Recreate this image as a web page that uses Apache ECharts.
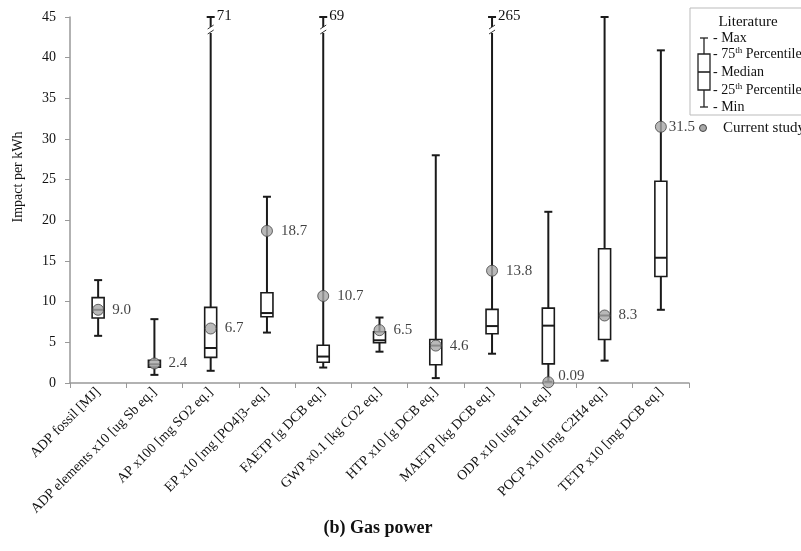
<!DOCTYPE html>
<html>
<head>
<meta charset="utf-8">
<script src="https://cdn.jsdelivr.net/npm/echarts@6/dist/echarts.min.js"></script>
<style>
  html, body { margin: 0; padding: 0; background: #fff; }
  #chart { width: 801px; height: 551px; }
</style>
</head>
<body>
<div id="chart"></div>
<script>
// impact categories (x axis)
var categories = [
  'ADP fossil [MJ]',
  'ADP elements x10 [ug Sb eq.]',
  'AP x100 [mg SO2 eq.]',
  'EP x10 [mg [PO4]3- eq.]',
  'FAETP [g DCB eq.]',
  'GWP x0.1 [kg CO2 eq.]',
  'HTP x10 [g DCB eq.]',
  'MAETP [kg DCB eq.]',
  'ODP x10 [ug R11 eq.]',
  'POCP x10 [mg C2H4 eq.]',
  'TETP x10 [mg DCB eq.]'
];

// literature box stats (max clipped at axis top when the range is broken)
var litMin    = [5.8, 1.0, 1.5, 6.2, 1.9, 3.85, 0.6, 3.6, 0.15, 2.75, 9.0];
var litQ1     = [8.0, 1.95, 3.15, 8.15, 2.55, 4.95, 2.25, 6.05, 2.35, 5.35, 13.1];
var litMedian = [9.0, 2.3, 4.3, 8.6, 3.25, 5.25, 4.6, 7.0, 7.05, 8.3, 15.4];
var litQ3     = [10.5, 2.8, 9.3, 11.1, 4.65, 6.3, 5.35, 9.05, 9.2, 16.5, 24.8];
var litMax    = [12.65, 7.85, 45, 22.9, 45, 8.05, 28.0, 45, 21.05, 45, 40.9];
// real maximum printed next to a broken whisker
var brokenMax = ['', '', '71', '', '69', '', '', '265', '', '', ''];

// current study values and their printed labels
var studyValues = [9.0, 2.4, 6.7, 18.7, 10.7, 6.5, 4.6, 13.8, 0.09, 8.3, 31.5];
var studyLabels = ['9.0', '2.4', '6.7', '18.7', '10.7', '6.5', '4.6', '13.8', '0.09', '8.3', '31.5'];

var yTicks = { min: 0, max: 45, interval: 5 };

var serif = '"Liberation Serif", "DejaVu Serif", serif';

var boxData = categories.map(function (c, i) {
  return [i, litMin[i], litQ1[i], litMedian[i], litQ3[i], litMax[i]];
});
var studyData = studyValues.map(function (v, i) { return [i, v]; });

function renderBox(params, api) {
  var i = api.value(0);
  var x = api.coord([i, 0])[0];
  var yMin = api.coord([i, api.value(1)])[1];
  var yQ1 = api.coord([i, api.value(2)])[1];
  var yMed = api.coord([i, api.value(3)])[1];
  var yQ3 = api.coord([i, api.value(4)])[1];
  var yMax = api.coord([i, api.value(5)])[1];
  var bw = 12, cw = 8;
  var stroke = { stroke: '#1a1a1a', lineWidth: 2 };
  var kids = [
    { type: 'line', shape: { x1: x, y1: yMin, x2: x, y2: yMax }, style: stroke },
    { type: 'line', shape: { x1: x - cw / 2, y1: yMin, x2: x + cw / 2, y2: yMin }, style: stroke },
    { type: 'line', shape: { x1: x - cw / 2, y1: yMax, x2: x + cw / 2, y2: yMax }, style: stroke },
    { type: 'rect', shape: { x: x - bw / 2, y: yQ3, width: bw, height: yQ1 - yQ3 },
      style: { fill: '#fff', stroke: '#1a1a1a', lineWidth: 1.6 } },
    { type: 'line', shape: { x1: x - bw / 2, y1: yMed, x2: x + bw / 2, y2: yMed }, style: stroke }
  ];
  var lbl = brokenMax[params.dataIndex];
  if (lbl) {
    var yb = api.coord([i, 43.4])[1];
    kids.push({ type: 'rect', shape: { x: x - 4, y: yb - 3, width: 8, height: 6 },
      style: { fill: '#fff' } });
    kids.push({ type: 'line', shape: { x1: x - 3, y1: yb - 1, x2: x + 3, y2: yb - 5 },
      style: { stroke: '#333', lineWidth: 1 } });
    kids.push({ type: 'line', shape: { x1: x - 3, y1: yb + 4, x2: x + 3, y2: yb },
      style: { stroke: '#333', lineWidth: 1 } });
    kids.push({ type: 'text', x: x + 6, y: yMax - 1,
      style: { text: lbl, font: '15px ' + serif, fill: '#111', verticalAlign: 'middle' } });
  }
  return { type: 'group', children: kids };
}

var chart = echarts.init(document.getElementById('chart'));

var legendX = 690, legendTop = 8;
var legendLabels = [
  { y: 38, t: '- Max' },
  { y: 54, t: '- 75{sup|th} Percentile' },
  { y: 72, t: '- Median' },
  { y: 90, t: '- 25{sup|th} Percentile' },
  { y: 107, t: '- Min' }
];
var legendGraphics = [
  { type: 'rect', shape: { x: legendX, y: legendTop, width: 120, height: 107 },
    style: { fill: '#fff', stroke: '#bbb', lineWidth: 1 }, z: 10 },
  { type: 'text', x: 748, y: 22, z: 11,
    style: { text: 'Literature', font: '15px ' + serif, fill: '#111', align: 'center', verticalAlign: 'middle' } },
  { type: 'line', shape: { x1: 704, y1: 38, x2: 704, y2: 107 }, style: { stroke: '#222', lineWidth: 1.3 }, z: 11 },
  { type: 'line', shape: { x1: 700, y1: 38, x2: 708, y2: 38 }, style: { stroke: '#222', lineWidth: 1.3 }, z: 11 },
  { type: 'line', shape: { x1: 700, y1: 107, x2: 708, y2: 107 }, style: { stroke: '#222', lineWidth: 1.3 }, z: 11 },
  { type: 'rect', shape: { x: 698, y: 54, width: 12, height: 36 },
    style: { fill: '#fff', stroke: '#222', lineWidth: 1.3 }, z: 11 },
  { type: 'line', shape: { x1: 698, y1: 72, x2: 710, y2: 72 }, style: { stroke: '#222', lineWidth: 1.6 }, z: 11 },
  { type: 'circle', shape: { cx: 703, cy: 128, r: 3.5 },
    style: { fill: '#a8a8a8', stroke: '#444', lineWidth: 1 }, z: 11 },
  { type: 'text', x: 723, y: 128, z: 11,
    style: { text: 'Current study', font: '15px ' + serif, fill: '#111', verticalAlign: 'middle' } },
  { type: 'text', x: 18, y: 177, rotation: Math.PI / 2, z: 11,
    style: { text: 'Impact per kWh', font: '14px ' + serif, fill: '#111', align: 'center', verticalAlign: 'middle' } },
  { type: 'text', x: 378, y: 528, z: 11,
    style: { text: '(b) Gas power', font: 'bold 18px ' + serif, fill: '#111', align: 'center', verticalAlign: 'middle' } }
];
legendLabels.forEach(function (l) {
  legendGraphics.push({
    type: 'text', x: 713, y: l.y, z: 11,
    style: {
      text: l.t, font: '14px ' + serif, fill: '#111', verticalAlign: 'middle',
      rich: { sup: { fontSize: 9, fontFamily: serif, verticalAlign: 'top', padding: [0, 0, 6, 0] } }
    }
  });
});

var option = {
  animation: false,
  backgroundColor: '#fff',
  grid: { left: 70, right: 112, top: 17, bottom: 168 },
  xAxis: {
    type: 'category',
    data: categories,
    boundaryGap: true,
    axisLine: { lineStyle: { color: '#999', width: 1.5 } },
    axisTick: { show: true, length: 5, lineStyle: { color: '#999' } },
    axisLabel: {
      rotate: 45, margin: 7, interval: 0,
      fontFamily: serif, fontSize: 14, color: '#111'
    }
  },
  yAxis: {
    type: 'value',
    min: yTicks.min, max: yTicks.max, interval: yTicks.interval,
    splitLine: { show: false },
    axisLine: { show: true, lineStyle: { color: '#999', width: 1.5 } },
    axisTick: { show: true, length: 5, lineStyle: { color: '#999' } },
    axisLabel: { fontFamily: serif, fontSize: 14, color: '#111', margin: 14 }
  },
  series: [
    {
      type: 'custom',
      renderItem: renderBox,
      data: boxData,
      encode: { x: 0, y: [1, 2, 3, 4, 5] },
      clip: false,
      z: 2
    },
    {
      type: 'scatter',
      data: studyData,
      symbol: 'circle',
      symbolSize: 11,
      itemStyle: { color: '#a8a8a8', borderColor: '#444', borderWidth: 1 },
      label: {
        show: true, position: 'right', distance: 8,
        fontFamily: serif, fontSize: 15, color: '#111',
        formatter: function (p) { return studyLabels[p.dataIndex]; }
      },
      labelLayout: function (p) {
        if (p.dataIndex === 8) return { dy: -6, dx: -4 };
        if (p.dataIndex === 10) return { dx: -6 };
        return {};
      },
      z: 5
    }
  ],
  graphic: legendGraphics
};

chart.setOption(option);
</script>
</body>
</html>
